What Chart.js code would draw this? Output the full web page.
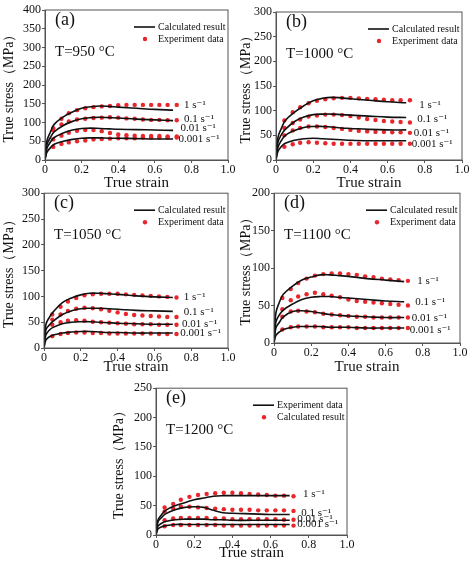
<!DOCTYPE html>
<html>
<head>
<meta charset="utf-8">
<script src="https://cdn.jsdelivr.net/npm/chart.js@4"></script>
<style>
body { margin:0; background:#fff; }
canvas { position:absolute; }
</style>
</head>
<body>
<canvas id="pa"></canvas>
<canvas id="pb"></canvas>
<canvas id="pc"></canvas>
<canvas id="pd"></canvas>
<canvas id="pe"></canvas>
<script>
const rates = ['1 s⁻¹', '0.1 s⁻¹', '0.01 s⁻¹', '0.001 s⁻¹'];
const calcStrain = [0,0.01,0.03,0.05,0.1,0.15,0.2,0.25,0.3,0.35,0.4,0.5,0.6,0.7];
const expStrain = [0.045,0.09,0.13,0.175,0.22,0.265,0.31,0.355,0.4,0.445,0.49,0.535,0.58,0.625,0.67,0.72];

// (a) 950 C
const calcA = [
  [0,50,75,95,115,128,138,142,144,143,141,138,135,133],
  [0,40,60,75,92,103,110,113,114,113,112,109,107,105],
  [0,30,48,60,72,80,84,85,84,83,82,81,80,79],
  [0,20,33,42,50,55,58,59,59,58,58,57,56,56]];
const expA = [
  [85,110,125,133,138,141,143,144,146,147,147,147,147,147,147,147],
  [80,95,103,108,110,112,113,114,113,111,110,108,107,107,106,106],
  [55,65,73,78,80,80,77,72,68,66,65,64,64,64,63,63],
  [35,43,47,50,52,55,56,57,58,58,58,60,60,60,60,60]];
// (b) 1000 C
const calcB = [
  [0,45,65,80,97,110,120,125,127,126,124,121,118,116],
  [0,35,52,62,78,87,92,93,93,92,91,89,87,86],
  [0,25,40,50,60,66,68,68,67,65,64,62,61,61],
  [0,17,28,34,40,43,44,43,42,41,40,39,39,39]];
const expB = [
  [80,97,107,115,120,123,125,126,126,125,124,123,122,121,121,121],
  [65,75,82,88,90,92,92,91,89,86,83,81,79,78,77,76],
  [50,60,65,68,68,67,65,63,61,59,58,57,57,56,56,55],
  [27,32,35,36,35,34,33,33,33,33,33,33,33,33,33,33]];
// (c) 1050 C
const calcC = [
  [0,45,60,70,88,97,103,106,106,105,104,101,99,98],
  [0,35,45,52,65,72,76,77,77,76,75,73,72,71],
  [0,25,35,40,47,50,51,51,50,49,48,47,46,46],
  [0,15,22,25,29,31,32,32,31,30,30,29,29,29]];
const expC = [
  [65,80,90,97,102,104,105,105,105,104,103,102,101,100,99,98],
  [55,65,72,76,78,77,75,72,69,66,64,63,62,61,60,60],
  [45,50,53,54,53,51,50,49,48,47,46,46,46,45,45,45],
  [23,27,29,30,30,29,29,28,28,28,28,28,28,27,27,27]];
// (d) 1100 C
const calcD = [
  [0,40,55,65,76,84,88,91,91,90,89,86,84,82],
  [0,28,38,44,52,58,61,62,62,61,60,58,56,55],
  [0,20,28,35,42,43,42,40,38,37,36,35,34,34],
  [0,10,15,18,21,22,22,22,21,21,21,20,20,20]];
const expD = [
  [60,72,80,86,90,92,93,93,92,91,89,88,86,85,84,83],
  [45,57,62,65,67,65,63,61,58,56,55,54,53,52,51,50],
  [35,42,43,42,41,39,38,37,36,35,35,34,34,34,34,34],
  [18,21,22,22,22,21,21,21,21,20,20,20,20,20,20,20]];
// (e) 1200 C
const calcE = [
  [0,25,35,42,50,55,60,63,66,67,67,67,67,67],
  [0,22,30,36,43,47,48,47,42,38,37,36,35,35],
  [0,15,20,23,26,27,27,27,26,26,25,25,25,25],
  [0,10,14,16,18,18,18,18,18,18,18,18,18,18]];
const expE = [
  [47,53,60,65,68,70,71,72,72,71,70,69,68,67,67,66],
  [40,45,48,48,47,46,45,44,43,43,43,42,42,42,42,41],
  [25,28,29,29,29,29,28,28,27,27,27,27,27,27,26,26],
  [15,17,17,17,17,17,17,16,16,16,16,16,16,16,16,16]];

const SERIF = '"Liberation Serif", "DejaVu Serif", serif';

function makePanel(id, o)
{
    const cv = document.getElementById(id);
    cv.width = o.w; cv.height = o.h;
    cv.style.left = o.x + 'px'; cv.style.top = o.y + 'px';

    const datasets = [];
    o.calc.forEach((ys) => {
        datasets.push({ type:'line', data: calcStrain.map((x, j) => ({x, y: ys[j]})),
            borderColor:'#111', borderWidth:1.6, pointRadius:0, tension:0.4, fill:false });
    });
    o.exp.forEach((ys) => {
        datasets.push({ type:'scatter', data: expStrain.map((x, j) => ({x, y: ys[j]})),
            backgroundColor:'#e8262b', borderWidth:0, pointRadius:2.2 });
    });

    const annot = {
        id:'annot',
        afterDraw(chart)
        {
            const c = chart.ctx, a = chart.chartArea;
            const xs = chart.scales.x, ys = chart.scales.y;
            c.save();
            c.strokeStyle = '#555'; c.lineWidth = 1;
            c.strokeRect(a.left, a.top, a.right - a.left, a.bottom - a.top);
            c.fillStyle = '#111';
            c.textBaseline = 'middle';
            c.font = '18px ' + SERIF;
            c.fillText(o.letter, a.left + 10, a.top + 10);
            c.font = '15px ' + SERIF;
            c.fillText(o.temp, a.left + 10, a.top + 42);
            // legend
            const lx = a.right - 70, ly = a.top + 17;
            c.font = '10px ' + SERIF;
            c.beginPath(); c.moveTo(lx - 24, ly); c.lineTo(lx - 3, ly);
            c.lineWidth = 1.6; c.strokeStyle = '#111'; c.stroke();
            c.fillText(o.leg[0], lx, ly);
            c.fillStyle = '#e8262b';
            c.beginPath(); c.arc(lx - 13, ly + 12, 2.2, 0, 2 * Math.PI); c.fill();
            c.fillStyle = '#111';
            c.fillText(o.leg[1], lx, ly + 12);
            // rate labels
            c.font = '11px ' + SERIF;
            rates.forEach((r, i) => {
                c.fillText(r, xs.getPixelForValue(o.lx[i]), ys.getPixelForValue(o.ly[i]));
            });
            c.restore();
        }
    };

    new Chart(cv, {
        data: { datasets },
        options: {
            responsive:false, animation:false,
            layout: { padding: { left:o.pl, top:o.pt, right:o.pr, bottom:0 } },
            plugins: { legend:{ display:false }, tooltip:{ enabled:false } },
            scales: {
                x: { type:'linear', min:0, max:1,
                     afterFit(s) { s.height = o.xh; },
                     ticks:{ stepSize:0.2, color:'#111', font:{ family:SERIF, size:12 }, padding:0,
                             callback: v => v === 0 ? '0' : v.toFixed(1) },
                     grid:{ drawOnChartArea:false, tickLength:3, color:'#555' },
                     border:{ color:'#555' },
                     title:{ display:true, text:'True strain', color:'#111', font:{ family:SERIF, size:15 }, padding:{top:0,bottom:2} } },
                y: { min:0, max:o.ymax,
                     afterFit(s) { s.width = o.yw; },
                     ticks:{ stepSize:50, color:'#111', font:{ family:SERIF, size:12 }, padding:1 },
                     grid:{ drawOnChartArea:false, tickLength:3, color:'#555' },
                     border:{ color:'#555' },
                     title:{ display:true, text:'True stress（MPa）', color:'#111', font:{ family:SERIF, size:14 }, padding:{top:0,bottom:0} } }
            }
        },
        plugins:[annot]
    });
}

const legStd = ['Calculated result', 'Experiment data'];

makePanel('pa', { x:0, y:0, w:237, h:194, pl:1, pt:10, pr:9, yw:44, xh:34, ymax:400,
    calc:calcA, exp:expA, letter:'(a)', temp:'T=950 °C', leg:legStd,
    lx:[0.76,0.76,0.74,0.73], ly:[147,109,84,57] });
makePanel('pb', { x:237, y:0, w:237, h:194, pl:1, pt:12, pr:12, yw:38, xh:34, ymax:300,
    calc:calcB, exp:expB, letter:'(b)', temp:'T=1000 °C', leg:legStd,
    lx:[0.77,0.76,0.74,0.73], ly:[112,82,55,33] });
makePanel('pc', { x:0, y:185, w:237, h:193, pl:1, pt:8, pr:9, yw:43, xh:30, ymax:300,
    calc:calcC, exp:expC, letter:'(c)', temp:'T=1050 °C', leg:legStd,
    lx:[0.76,0.76,0.75,0.74], ly:[98,70,47,28] });
makePanel('pd', { x:237, y:185, w:237, h:193, pl:1, pt:8, pr:14, yw:36, xh:35, ymax:200,
    calc:calcD, exp:expD, letter:'(d)', temp:'T=1100 °C', leg:legStd,
    lx:[0.77,0.76,0.74,0.73], ly:[82,55,33,17] });
makePanel('pe', { x:110, y:380, w:250, h:184, pl:1, pt:8, pr:13, yw:45, xh:29, ymax:250,
    calc:calcE, exp:expE, letter:'(e)', temp:'T=1200 °C', leg:['Experiment data','Calculated result'],
    lx:[0.77,0.76,0.74,0.74], ly:[69,37,27,18] });
</script>
</body>
</html>
